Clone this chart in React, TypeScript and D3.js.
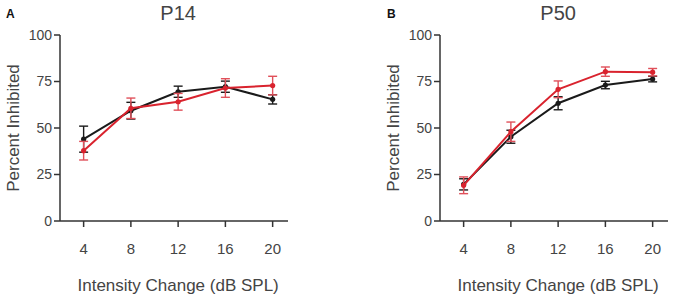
import React from "react";
import * as d3 from "d3";

const intensities = [4, 8, 12, 16, 20];
const yTicks = [0, 25, 50, 75, 100];

const p14Black = [44, 59.3, 69.5, 72.2, 65.4];
const p14BlackErr = [7, 4.5, 3, 3, 2.5];
const p14Red = [37.8, 60.6, 64.1, 71.5, 72.8];
const p14RedErr = [5, 5.5, 4.5, 5, 5];

const p50Black = [19.7, 45.3, 63.3, 73.1, 76.3];
const p50BlackErr = [3, 3.5, 3.5, 2, 1.5];
const p50Red = [19.2, 48, 70.8, 80.3, 80];
const p50RedErr = [4.5, 5.2, 4.5, 2.5, 2];

const BLACK = "#1a1a1a";
const RED = "#d9232e";
const RED_ERR = "#e0505a";
const AXIS = "#333";
const TEXT = "#444";
const FONT = "Liberation Sans, Arial, sans-serif";

type PanelProps = {
  ox: number;
  letter: string;
  letterX: number;
  title: string;
  black: number[];
  blackErr: number[];
  red: number[];
  redErr: number[];
};

function Panel({ ox, letter, letterX, title, black, blackErr, red, redErr }: PanelProps) {
  const left = ox + 60;
  const x = d3.scaleLinear().domain([2, 21.3]).range([left, left + 228]);
  const y = d3.scaleLinear().domain([0, 100]).range([221, 35]);
  const line = d3
    .line<number>()
    .x((_, i) => x(intensities[i]))
    .y((d) => y(d));

  const series = [
    { vals: black, errs: blackErr, color: BLACK, err: BLACK },
    { vals: red, errs: redErr, color: RED, err: RED_ERR },
  ];

  return (
    <g>
      <text x={letterX} y={18} fontFamily={FONT} fontWeight="bold" fontSize={12} fill="#111">
        {letter}
      </text>
      <text x={x(12)} y={20} textAnchor="middle" fontFamily={FONT} fontSize={20} fill={TEXT}>
        {title}
      </text>
      {/* y axis */}
      <line x1={left} x2={left} y1={y(100)} y2={y(0)} stroke={AXIS} strokeWidth={1.5} />
      {yTicks.map((t) => (
        <g key={t}>
          <line x1={left - 6} x2={left} y1={y(t)} y2={y(t)} stroke={AXIS} strokeWidth={1.5} />
          <text
            x={left - 8}
            y={y(t)}
            dy="0.35em"
            textAnchor="end"
            fontFamily={FONT}
            fontSize={14}
            fill={TEXT}
          >
            {t}
          </text>
        </g>
      ))}
      {/* x axis */}
      <line x1={left} x2={x(21.3)} y1={y(0)} y2={y(0)} stroke={AXIS} strokeWidth={1.5} />
      {intensities.map((t) => (
        <g key={t}>
          <line x1={x(t)} x2={x(t)} y1={y(0)} y2={y(0) + 6} stroke={AXIS} strokeWidth={1.5} />
          <text x={x(t)} y={254} textAnchor="middle" fontFamily={FONT} fontSize={15} fill={TEXT}>
            {t}
          </text>
        </g>
      ))}
      <text x={x(12)} y={291} textAnchor="middle" fontFamily={FONT} fontSize={17} fill={TEXT}>
        Intensity Change (dB SPL)
      </text>
      <text
        transform={`translate(${ox + 19},${y(50)}) rotate(-90)`}
        textAnchor="middle"
        fontFamily={FONT}
        fontSize={17}
        fill={TEXT}
      >
        Percent Inhibited
      </text>
      {series.map((s, si) => (
        <g key={si}>
          {s.vals.map((v, i) => {
            const cx = x(intensities[i]);
            const top = y(v + s.errs[i]);
            const bot = y(v - s.errs[i]);
            return (
              <g key={i} stroke={s.err} strokeWidth={1.4}>
                <line x1={cx} x2={cx} y1={top} y2={bot} />
                <line x1={cx - 4.5} x2={cx + 4.5} y1={top} y2={top} />
                <line x1={cx - 4.5} x2={cx + 4.5} y1={bot} y2={bot} />
              </g>
            );
          })}
          <path d={line(s.vals) || ""} fill="none" stroke={s.color} strokeWidth={2} />
          {s.vals.map((v, i) => (
            <circle key={i} cx={x(intensities[i])} cy={y(v)} r={2.6} fill={s.color} />
          ))}
        </g>
      ))}
    </g>
  );
}

export default function App() {
  return (
    <svg width={680} height={298} style={{ position: "absolute", left: 0, top: 0, background: "#fff" }}>
      <Panel
        ox={0}
        letter="A"
        letterX={6}
        title="P14"
        black={p14Black}
        blackErr={p14BlackErr}
        red={p14Red}
        redErr={p14RedErr}
      />
      <Panel
        ox={380}
        letter="B"
        letterX={387}
        title="P50"
        black={p50Black}
        blackErr={p50BlackErr}
        red={p50Red}
        redErr={p50RedErr}
      />
    </svg>
  );
}
